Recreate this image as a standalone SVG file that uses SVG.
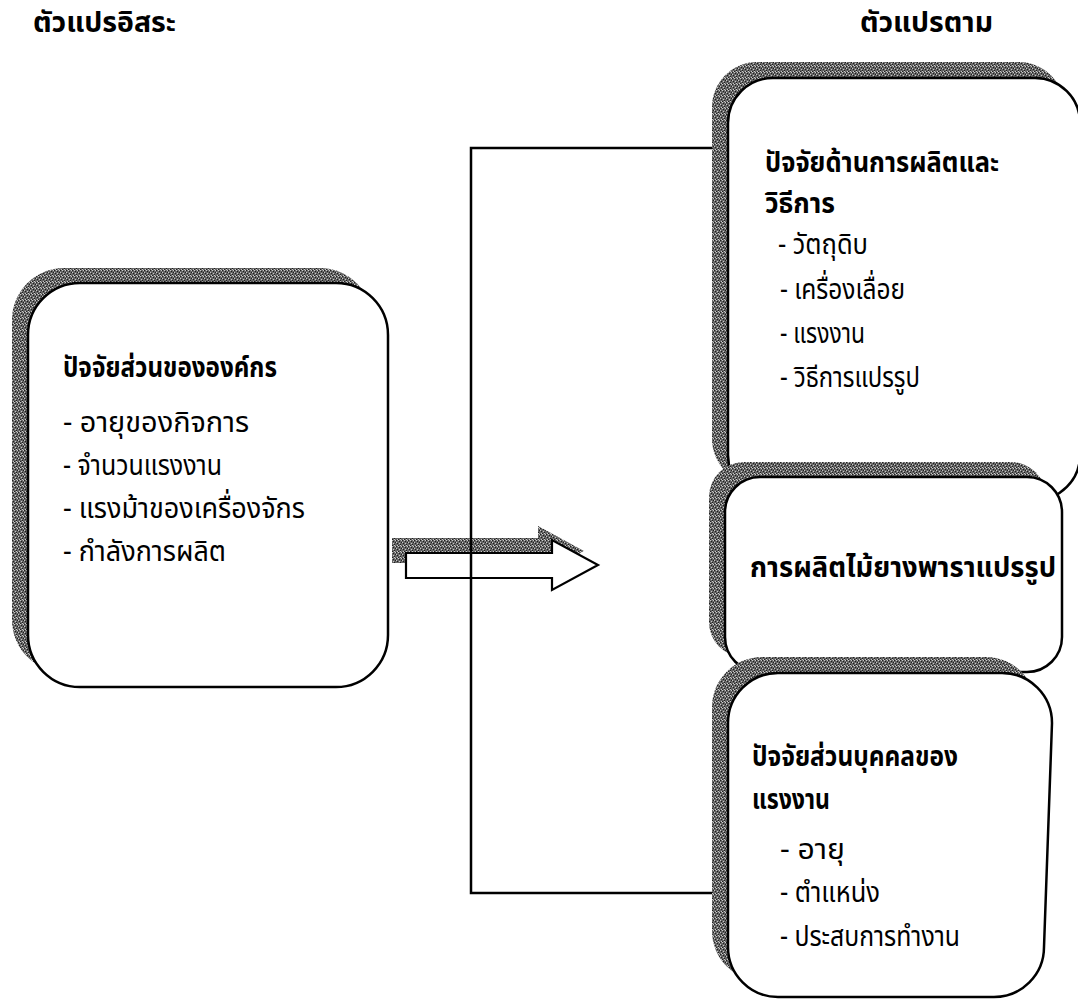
<svg xmlns="http://www.w3.org/2000/svg" width="1078" height="1001" viewBox="0 0 1078 1001">
<style>
.box{fill:#fff;stroke:#000;stroke-width:2.5}
.sh{fill:url(#stip)}
.t{font-family:"Noto Sans Thai","Noto Sans","DejaVu Sans",sans-serif;font-size:23px;fill:#000}
.b{font-weight:bold}
.con{fill:none;stroke:#000;stroke-width:2.5}
</style>
<defs>
<pattern id="stip" width="6" height="6" patternUnits="userSpaceOnUse">
<rect width="6" height="6" fill="#666"/>
<path d="M0,0h1v1h-1zM3,1h1v1h-1zM1,3h1v1h-1zM4,4h1v1h-1zM5,2h1v1h-1zM2,5h1v1h-1z" fill="#1e1e1e"/>
<path d="M2,0h1v1h-1zM5,0h1v1h-1zM0,2h1v1h-1zM3,3h1v1h-1zM1,5h1v1h-1zM4,5h1v1h-1z" fill="#c8c8c8"/>
</pattern>
</defs>
<rect width="1078" height="1001" fill="#fff"/>
<g id="titles">
<text class="t b" transform="translate(33 32) scale(1 1.25)" textLength="143" lengthAdjust="spacingAndGlyphs">ตัวแปรอิสระ</text>
<text class="t b" transform="translate(860 32) scale(1 1.25)" textLength="133" lengthAdjust="spacingAndGlyphs">ตัวแปรตาม</text>
</g>
<g id="arrow">
<path class="sh" d="M392,538 H538 V526 L584,551 L538,576 V563 H392 Z"/>
<path d="M406,553 H552 V540 L598,565 L552,590 V578 H406 Z" fill="#fff" stroke="#000" stroke-width="2.2"/>
</g>
<g id="connectors">
<polyline class="con" points="712,148 471,148 471,893 712,893"/>
</g>
<g id="node-org">
<rect class="sh" x="12" y="268" width="360" height="404" rx="52"/>
<rect class="box" x="28" y="283" width="360" height="404" rx="52"/>
<text class="t b" transform="translate(63 377) scale(1 1.25)" textLength="214" lengthAdjust="spacingAndGlyphs">ปัจจัยส่วนขององค์กร</text>
<text class="t" transform="translate(63 432) scale(1 1.25)" textLength="186" lengthAdjust="spacingAndGlyphs">- อายุของกิจการ</text>
<text class="t" transform="translate(63 475) scale(1 1.25)" textLength="159" lengthAdjust="spacingAndGlyphs">- จำนวนแรงงาน</text>
<text class="t" transform="translate(63 518) scale(1 1.25)" textLength="242" lengthAdjust="spacingAndGlyphs">- แรงม้าของเครื่องจักร</text>
<text class="t" transform="translate(63 561) scale(1 1.25)" textLength="163" lengthAdjust="spacingAndGlyphs">- กำลังการผลิต</text>
</g>
<g id="node-production">
<rect class="sh" x="712" y="62" width="352" height="422" rx="45"/>
<rect class="box" x="728" y="78" width="352" height="422" rx="45"/>
<text class="t b" transform="translate(765 172) scale(1 1.25)" textLength="234" lengthAdjust="spacingAndGlyphs">ปัจจัยด้านการผลิตและ</text>
<text class="t b" transform="translate(765 213) scale(1 1.25)" textLength="70" lengthAdjust="spacingAndGlyphs">วิธีการ</text>
<text class="t" transform="translate(778 254) scale(1 1.25)" textLength="90" lengthAdjust="spacingAndGlyphs">- วัตถุดิบ</text>
<text class="t" transform="translate(780 299) scale(1 1.25)" textLength="125" lengthAdjust="spacingAndGlyphs">- เครื่องเลื่อย</text>
<text class="t" transform="translate(780 343) scale(1 1.25)" textLength="85" lengthAdjust="spacingAndGlyphs">- แรงงาน</text>
<text class="t" transform="translate(780 387) scale(1 1.25)" textLength="140" lengthAdjust="spacingAndGlyphs">- วิธีการแปรรูป</text>
</g>
<g id="node-output">
<rect class="sh" x="709" y="462" width="337" height="195" rx="35"/>
<rect class="box" x="725" y="477" width="337" height="195" rx="35"/>
<text class="t b" transform="translate(750 577) scale(1 1.25)" textLength="306" lengthAdjust="spacingAndGlyphs">การผลิตไม้ยางพาราแปรรูป</text>
</g>
<g id="node-personal">
<path class="sh" d="M762,657 H986 A50,50 0 0 1 1036,707 L1028,931 A50,50 0 0 1 978,981 H762 A50,50 0 0 1 712,931 V707 A50,50 0 0 1 762,657 Z"/>
<path class="box" d="M778,673 H1002 A50,50 0 0 1 1052,723 L1044,947 A50,50 0 0 1 994,997 H778 A50,50 0 0 1 728,947 V723 A50,50 0 0 1 778,673 Z"/>
<text class="t b" transform="translate(752 766) scale(1 1.25)" textLength="206" lengthAdjust="spacingAndGlyphs">ปัจจัยส่วนบุคคลของ</text>
<text class="t b" transform="translate(752 809) scale(1 1.25)" textLength="78" lengthAdjust="spacingAndGlyphs">แรงงาน</text>
<text class="t" transform="translate(780 859) scale(1 1.25)" textLength="65" lengthAdjust="spacingAndGlyphs">- อายุ</text>
<text class="t" transform="translate(780 902) scale(1 1.25)" textLength="100" lengthAdjust="spacingAndGlyphs">- ตำแหน่ง</text>
<text class="t" transform="translate(780 946) scale(1 1.25)" textLength="180" lengthAdjust="spacingAndGlyphs">- ประสบการทำงาน</text>
</g>
</svg>
